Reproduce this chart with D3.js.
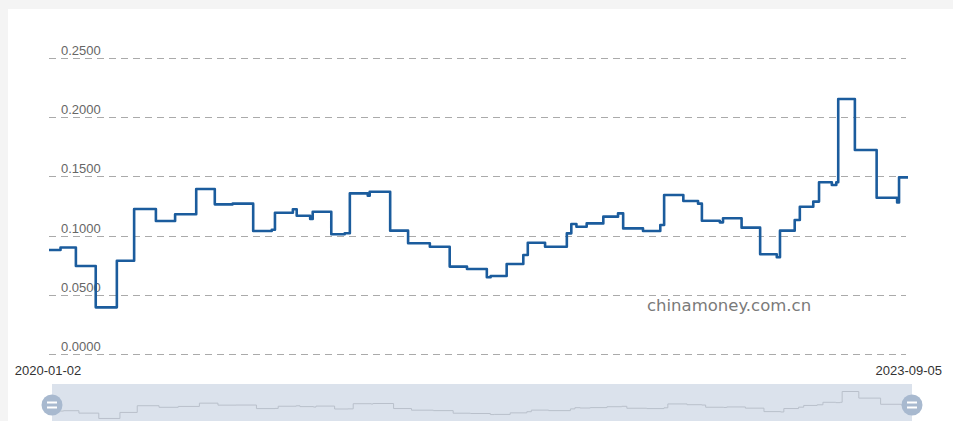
<!DOCTYPE html>
<html>
<head>
<meta charset="utf-8">
<script src="https://cdn.jsdelivr.net/npm/d3@7"></script>
<style>
  html, body { margin: 0; padding: 0; background: #f4f4f4; }
  svg { display: block; }
  .tick-y { font: 13px "Liberation Sans", Arial, sans-serif; fill: #666; }
  .tick-x { font: 13px "Liberation Sans", Arial, sans-serif; fill: #333; }
</style>
</head>
<body>
<div id="chart"></div>
<script>
'use strict';

// step points: date the value starts, value
const dates = [
  '2020-01-02','2020-01-20','2020-02-13','2020-03-15','2020-04-17','2020-05-14',
  '2020-06-17','2020-07-17','2020-08-19','2020-09-17','2020-10-15','2020-11-16',
  '2020-12-15','2020-12-20','2021-01-17','2021-01-23','2021-02-13','2021-02-17',
  '2021-03-18','2021-04-08','2021-04-16','2021-05-14','2021-05-17','2021-06-18',
  '2021-07-16','2021-08-19','2021-09-19','2021-10-16','2021-11-16','2021-11-22',
  '2021-12-17','2022-01-12','2022-01-19','2022-02-15','2022-03-21','2022-03-28',
  '2022-04-05','2022-04-21','2022-05-17','2022-06-09','2022-06-17','2022-07-18',
  '2022-08-14','2022-08-20','2022-09-19','2022-10-12','2022-10-18','2022-11-15',
  '2022-11-20','2022-12-19','2023-01-17','2023-02-12','2023-02-17','2023-03-12',
  '2023-03-20','2023-04-10','2023-04-19','2023-05-09','2023-05-16','2023-05-19',
  '2023-06-14','2023-07-18','2023-08-19','2023-08-22','2023-09-05'
];
const values = [
  0.0878,0.0900,0.0743,0.0394,0.0788,0.1225,
  0.1123,0.1180,0.1394,0.1264,0.1270,0.1039,
  0.1050,0.1193,0.1222,0.1168,0.1140,0.1202,
  0.1011,0.1020,0.1357,0.1337,0.1370,0.1042,
  0.0935,0.0906,0.0738,0.0718,0.0648,0.0659,
  0.0760,0.0836,0.0940,0.0906,0.1019,0.1098,
  0.1075,0.1103,0.1160,0.1188,0.1061,0.1039,
  0.1090,0.1343,0.1292,0.1270,0.1126,0.1112,
  0.1146,0.1067,0.0842,0.0817,0.1042,0.1132,
  0.1244,0.1287,0.1450,0.1427,0.1450,0.2154,
  0.1723,0.1320,0.1280,0.1492,0.1492
];
const yTicks = [0, 0.05, 0.10, 0.15, 0.20, 0.25];
const xLabels = ['2020-01-02', '2023-09-05'];
const watermark = 'chinamoney.com.cn';

const W = 953, H = 421;
const parse = d3.timeParse('%Y-%m-%d');
const data = dates.map((d, i) => ({ date: parse(d), v: values[i] }));

const svg = d3.select('#chart').append('svg')
  .attr('width', W).attr('height', H);

// white panel
svg.append('rect')
  .attr('x', 8).attr('y', 9).attr('width', W - 8).attr('height', H - 9)
  .attr('fill', '#fff');

const x = d3.scaleTime()
  .domain(d3.extent(data, d => d.date))
  .range([49, 908]);
const y = d3.scaleLinear()
  .domain([0, 0.25])
  .range([354, 58]);

// dashed grid + labels
const grid = svg.append('g');
grid.selectAll('line').data(yTicks).join('line')
  .attr('x1', 49).attr('x2', 906)
  .attr('y1', d => Math.round(y(d)) + 0.5).attr('y2', d => Math.round(y(d)) + 0.5)
  .attr('stroke', '#aaa')
  .attr('stroke-dasharray', '7,5');
grid.selectAll('text').data(yTicks).join('text')
  .attr('class', 'tick-y')
  .attr('x', 61)
  .attr('y', d => y(d) - 3)
  .text(d => d3.format('.4f')(d));

// x labels at both ends
svg.append('text').attr('class', 'tick-x')
  .attr('x', 48).attr('y', 375).attr('text-anchor', 'middle')
  .text(xLabels[0]);
svg.append('text').attr('class', 'tick-x')
  .attr('x', 942).attr('y', 375).attr('text-anchor', 'end')
  .text(xLabels[1]);

// watermark
svg.append('text')
  .attr('x', 647).attr('y', 311)
  .attr('font-family', '"DejaVu Sans", Verdana, sans-serif')
  .attr('font-size', 16.5)
  .attr('fill', '#7a7a7a')
  .text(watermark);

// main line
const line = d3.line()
  .curve(d3.curveStepAfter)
  .x(d => x(d.date))
  .y(d => y(d.v));
svg.append('path')
  .datum(data)
  .attr('d', line)
  .attr('fill', 'none')
  .attr('stroke', '#1b5c9d')
  .attr('stroke-width', 2.6)
  .attr('stroke-linejoin', 'round');

// data zoom slider
const sl = { x0: 52, x1: 912, top: 384, bottom: 425 };
svg.append('rect')
  .attr('x', sl.x0).attr('y', sl.top)
  .attr('width', sl.x1 - sl.x0).attr('height', sl.bottom - sl.top)
  .attr('fill', '#dbe2ec');

const xs = d3.scaleTime().domain(x.domain()).range([sl.x0, sl.x1]);
const ys = d3.scaleLinear().domain([0, d3.max(values)]).range([424.5, 391.5]);
const miniLine = d3.line().curve(d3.curveStepAfter)
  .x(d => xs(d.date)).y(d => ys(d.v));
svg.append('path').datum(data).attr('d', miniLine)
  .attr('fill', 'none').attr('stroke', '#b9c0cb').attr('stroke-width', 1);

// handles
[sl.x0, sl.x1].forEach(cx => {
  const h = svg.append('g').attr('transform', `translate(${cx},405)`);
  h.append('circle').attr('r', 10.5).attr('fill', '#a8b9cf');
  h.append('rect').attr('x', -5).attr('y', -3.5).attr('width', 10).attr('height', 2).attr('fill', '#fff');
  h.append('rect').attr('x', -5).attr('y', 1.5).attr('width', 10).attr('height', 2).attr('fill', '#fff');
});
</script>
</body>
</html>
